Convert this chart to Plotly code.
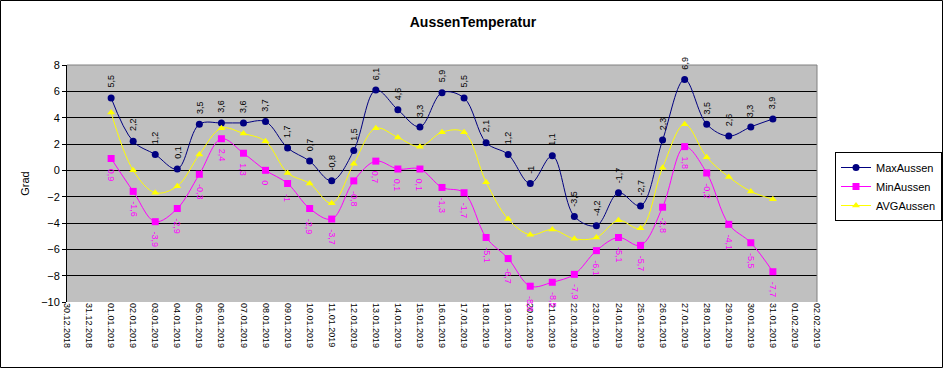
import plotly.graph_objects as go
import pandas as pd

dates = [d.strftime("%Y-%m-%d") for d in pd.date_range("2019-01-01", "2019-01-31")]
max_aussen = [5.5, 2.2, 1.2, 0.1, 3.5, 3.6, 3.6, 3.7, 1.7, 0.7, -0.8, 1.5, 6.1, 4.6, 3.3, 5.9,
              5.5, 2.1, 1.2, -1.0, 1.1, -3.5, -4.2, -1.7, -2.7, 2.3, 6.9, 3.5, 2.6, 3.3, 3.9]
min_aussen = [0.9, -1.6, -3.9, -2.9, -0.3, 2.4, 1.3, 0.0, -1.0, -2.9, -3.7, -0.8, 0.7, 0.1, 0.1, -1.3,
              -1.7, -5.1, -6.7, -8.8, -8.5, -7.9, -6.1, -5.1, -5.7, -2.8, 1.8, -0.2, -4.1, -5.5, -7.7]
avg_aussen = [4.4, 0.0, -1.7, -1.2, 1.2, 3.2, 2.8, 2.2, -0.2, -1.0, -2.5, 0.5, 3.2, 2.5, 1.8, 2.9,
              2.9, -0.9, -3.7, -4.9, -4.5, -5.2, -5.1, -3.8, -4.4, 0.2, 3.5, 1.0, -0.5, -1.6, -2.2]

FONT = "Arial, Liberation Sans, sans-serif"
W, H = 943, 368
L, R, T, B = 67, 126, 65, 66
PW, PH = W - L - R, H - T - B


def fmt(v):
    return f"{v:g}".replace(".", ",")


fig = go.Figure()
fig.add_trace(go.Scatter(x=dates, y=max_aussen, name="MaxAussen", mode="lines+markers",
                         line=dict(color="#000080", width=1, shape="spline", smoothing=1.0),
                         marker=dict(symbol="circle", size=7, color="#000080")))
fig.add_trace(go.Scatter(x=dates, y=min_aussen, name="MinAussen", mode="lines+markers",
                         line=dict(color="#FF00FF", width=1, shape="spline", smoothing=1.0),
                         marker=dict(symbol="square", size=7, color="#FF00FF")))
fig.add_trace(go.Scatter(x=dates, y=avg_aussen, name="AVGAussen", mode="lines+markers",
                         line=dict(color="#FFFF00", width=1, shape="spline", smoothing=1.0),
                         marker=dict(symbol="triangle-up", size=7, color="#FFFF00")))

annotations = []
for d, v in zip(dates, max_aussen):
    annotations.append(dict(x=d, y=v, xref="x", yref="y", text=fmt(v), showarrow=False,
                            textangle=-90, yanchor="bottom", xanchor="center", yshift=8,
                            font=dict(family=FONT, size=9, color="black")))
for d, v in zip(dates, min_aussen):
    annotations.append(dict(x=d, y=v, xref="x", yref="y", text=fmt(v), showarrow=False,
                            textangle=90, yanchor="top", xanchor="center", yshift=-8,
                            font=dict(family=FONT, size=9, color="#FF00FF")))

xrange = ["2018-12-30", "2019-02-02"]
fig.update_layout(
    width=W, height=H,
    margin=dict(l=L, r=R, t=T, b=B, autoexpand=False),
    paper_bgcolor="white", plot_bgcolor="#c0c0c0",
    font=dict(family=FONT, size=11, color="black"),
    title=dict(text="<b>AussenTemperatur</b>", x=473 / W, xanchor="center",
               y=1 - 22 / H, yanchor="middle", font=dict(family=FONT, size=14, color="black")),
    showlegend=True,
    legend=dict(x=(835 - L) / PW, y=(H - B - 152) / PH, xanchor="left", yanchor="top",
                bgcolor="white", bordercolor="black", borderwidth=1,
                font=dict(family=FONT, size=11, color="black"), itemwidth=30),
    xaxis=dict(type="date", range=xrange, tick0="2018-12-30", dtick=86400000,
               tickformat="%d.%m.%Y", tickangle=90, showgrid=False, zeroline=False,
               showline=False, ticks="", automargin=False,
               tickfont=dict(family=FONT, size=9, color="black")),
    xaxis2=dict(type="date", range=xrange, overlaying="x", anchor="free", position=10 / 18,
                tick0="2018-12-30", dtick=86400000, showticklabels=False, ticks="outside",
                ticklen=4, tickcolor="black", showgrid=False, zeroline=False, showline=False),
    yaxis=dict(range=[-10, 8], dtick=2, showgrid=True, gridcolor="black", gridwidth=1,
               zeroline=True, zerolinecolor="black", zerolinewidth=1, automargin=False,
               showline=True, linecolor="black", ticks="outside", ticklen=4, tickcolor="black",
               tickfont=dict(family=FONT, size=11, color="black"),
               title=dict(text="Grad", standoff=9, font=dict(family=FONT, size=11, color="black"))),
    annotations=annotations,
    shapes=[
        dict(type="line", xref="paper", yref="paper", x0=0, x1=1, y0=1, y1=1,
             line=dict(color="#808080", width=1), layer="above"),
        dict(type="line", xref="paper", yref="paper", x0=1, x1=1, y0=0, y1=1,
             line=dict(color="#808080", width=1), layer="above"),
        dict(type="rect", xref="paper", yref="paper",
             x0=(0.5 - L) / PW, x1=(W - 0.5 - L) / PW,
             y0=(H - B - (H - 0.5)) / PH, y1=(H - B - 0.5) / PH,
             line=dict(color="black", width=1), fillcolor="rgba(0,0,0,0)", layer="above"),
    ],
)

fig.write_html("out.html", config={"displayModeBar": False},
               post_script="document.body.style.margin='0';document.body.style.padding='0';")
